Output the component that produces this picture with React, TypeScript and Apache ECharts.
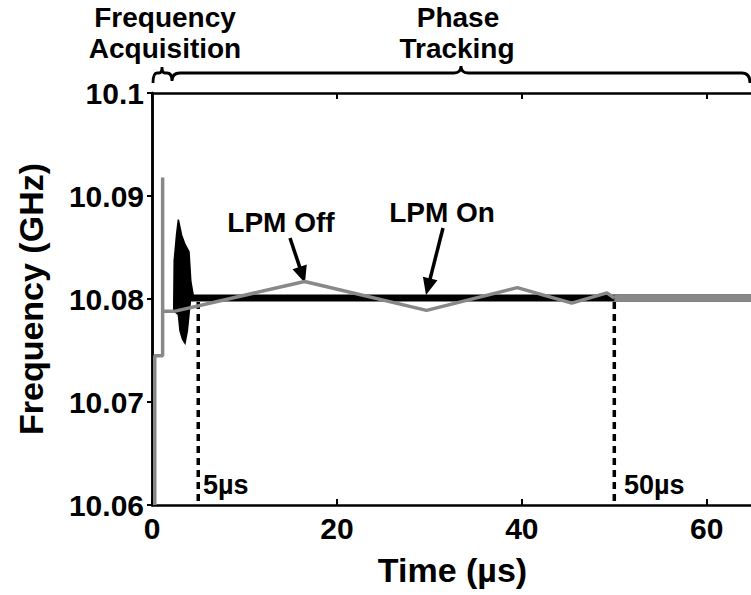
import React, { useEffect, useRef } from "react";
import * as echarts from "echarts";

// ---- data ----
const xTicks = [0, 20, 40, 60];
const yTicks = ["10.06", "10.07", "10.08", "10.09", "10.1"];

// LPM On (black): acquisition burst envelope + settled trace
const burstT = [2.35, 2.4, 2.65, 2.85, 3.2, 3.57, 4.0, 4.2, 4.45, 4.45, 4.15, 4.0, 3.82, 3.57, 3.3, 3.03, 2.85, 2.4, 2.35];
const burstF = [10.0788, 10.0837, 10.0862, 10.0877, 10.0862, 10.0853, 10.0846, 10.0817, 10.0804, 10.0799, 10.0798, 10.0785, 10.0769, 10.0757, 10.0761, 10.0769, 10.0785, 10.0788, 10.0788];
const lpmOnT = [4.3, 65];
const lpmOnF = [10.0801, 10.0801];

// LPM Off (grey)
const lpmOffT = [0.3, 0.3, 1.15, 1.15, 1.15, 2.4, 16.5, 29.7, 39.5, 45.4, 49.2, 50.0];
const lpmOffF = [10.06, 10.0745, 10.0745, 10.0918, 10.0788, 10.0788, 10.0817, 10.0789, 10.0811, 10.0796, 10.0806, 10.0801];
const lpmOffSteadyT = [50, 65];
const lpmOffSteadyF = [10.0801, 10.0801];

// dotted markers
const markerT = [5, 50];
const markerTop = 10.0797;
const markerBottom = 10.06;

const FONT = '"Liberation Sans", Arial, Helvetica, sans-serif';

try {
  echarts.graphic.registerShape(
    "braces",
    (echarts.graphic as any).extendPath(
      "M153,83 Q153,73 157,73 L159,73 Q162,73 162,67 Q162,73 165,73 L167,73 Q172,73 172,81 " +
        "M172,81 Q172,73 180,73 L454,73 Q461,73 461,66 Q461,73 468,73 L742,73 Q750,73 750,83",
      {}
    )
  );
} catch (e) {}

function arrowHead(sx: number, sy: number, tx: number, ty: number, len: number, half: number) {
  const dx = tx - sx, dy = ty - sy;
  const L = Math.hypot(dx, dy);
  const ux = dx / L, uy = dy / L;
  const bx = tx - ux * len, by = ty - uy * len;
  return [
    [tx, ty],
    [bx - uy * half, by + ux * half],
    [bx + uy * half, by - ux * half],
  ];
}

function arrow(sx: number, sy: number, tx: number, ty: number) {
  const dx = tx - sx, dy = ty - sy;
  const L = Math.hypot(dx, dy);
  const ex = tx - (dx / L) * 12, ey = ty - (dy / L) * 12;
  return [
    { type: "line", shape: { x1: sx, y1: sy, x2: ex, y2: ey }, style: { stroke: "#000", lineWidth: 3.5 } },
    { type: "polygon", shape: { points: arrowHead(sx, sy, tx, ty, 17, 7.5) }, style: { fill: "#000" } },
  ];
}

function txt(text: string, x: number, y: number, size: number, align: string = "center") {
  return {
    type: "text",
    x,
    y,
    style: { text, fontSize: size, fontWeight: "bold", fontFamily: FONT, fill: "#000", align, verticalAlign: "middle" },
  };
}

export default function App() {
  const ref = useRef<HTMLDivElement>(null);
  useEffect(() => {
    document.body.style.margin = "0";
    const chart = echarts.init(ref.current!, null, { renderer: "svg" });
    const axisLine = { lineStyle: { color: "#000", width: 2.5 } };
    const labelStyle = { fontSize: 30, fontWeight: "bold" as const, fontFamily: FONT, color: "#000" };
    const nameStyle = { fontSize: 34, fontWeight: "bold" as const, fontFamily: FONT, color: "#000" };
    chart.setOption({
      animation: false,
      grid: { left: 152, top: 93, width: 601, height: 412, outerBoundsMode: "none", containLabel: false },
      xAxis: [
        {
          type: "value", min: 0, max: 65, interval: 20, position: "bottom",
          axisLine, axisTick: { inside: true, length: 6, lineStyle: { color: "#000", width: 2 } },
          axisLabel: { ...labelStyle, margin: 8, formatter: (v: number) => (xTicks.includes(v) ? String(v) : "") },
          splitLine: { show: false },
          name: "Time (µs)", nameLocation: "middle", nameGap: 48, nameTextStyle: nameStyle,
        },
        {
          type: "value", min: 0, max: 65, interval: 20, position: "top",
          axisLine, axisTick: { inside: true, length: 6, lineStyle: { color: "#000", width: 2 } },
          axisLabel: { show: false }, splitLine: { show: false },
        },
      ],
      yAxis: [
        {
          type: "value", min: 10.06, max: 10.1, interval: 0.01,
          axisLine, axisTick: { inside: false, length: 4, lineStyle: { color: "#000", width: 2 } },
          axisLabel: {
            ...labelStyle, margin: 8,
            formatter: (v: number) => {
              const s = String(parseFloat(v.toFixed(2)));
              return yTicks.includes(s) ? s : "";
            },
          },
          splitLine: { show: false },
          name: "Frequency (GHz)", nameLocation: "middle", nameGap: 104, nameRotate: 90, nameTextStyle: nameStyle,
        },
        {
          type: "value", min: 10.06, max: 10.1, interval: 0.01, position: "right",
          axisLine, axisTick: { inside: true, length: 5, lineStyle: { color: "#000", width: 2 } },
          axisLabel: { show: false }, splitLine: { show: false },
        },
      ],
      series: [
        {
          type: "line", name: "LPM On", data: lpmOnT.map((t, i) => [t, lpmOnF[i]]),
          showSymbol: false, lineStyle: { color: "#000", width: 7 }, z: 2,
        },
        {
          type: "custom", name: "LPM On burst", data: [[burstT[0], burstF[0]]], z: 2,
          renderItem: (params: any, api: any) => ({
            type: "polygon",
            shape: { points: burstT.map((t, i) => api.coord([t, burstF[i]])) },
            style: { fill: "#000", stroke: "#000", lineWidth: 1.5 },
          }),
        },
        ...markerT.map((t) => ({
          type: "line", data: [[t, markerTop], [t, markerBottom]], showSymbol: false, z: 3,
          lineStyle: { color: "#000", width: 3.5, type: [7, 5] },
        })),
        {
          type: "line", name: "LPM Off", data: lpmOffT.map((t, i) => [t, lpmOffF[i]]),
          showSymbol: false, lineStyle: { color: "#888888", width: 3.5 }, z: 4,
        },
        {
          type: "line", name: "LPM Off steady", data: lpmOffSteadyT.map((t, i) => [t, lpmOffSteadyF[i]]),
          showSymbol: false, lineStyle: { color: "#888888", width: 7 }, z: 4,
        },
      ],
      graphic: [
        { type: "braces", x: 0, y: 0, style: { fill: "none", stroke: "#000", lineWidth: 2.8 } },
        txt("Frequency", 165, 17, 28),
        txt("Acquisition", 165, 48, 28),
        txt("Phase", 458, 17, 28),
        txt("Tracking", 457, 48, 28),
        txt("LPM Off", 281, 222, 28),
        txt("LPM On", 442, 212, 28),
        txt("5µs", 203, 485, 27, "left"),
        txt("50µs", 624, 485, 27, "left"),
        ...arrow(290, 238, 305, 283),
        ...arrow(443, 228, 426, 295),
      ],
    });
    return () => chart.dispose();
  }, []);
  return <div ref={ref} style={{ width: 751, height: 595 }} />;
}
